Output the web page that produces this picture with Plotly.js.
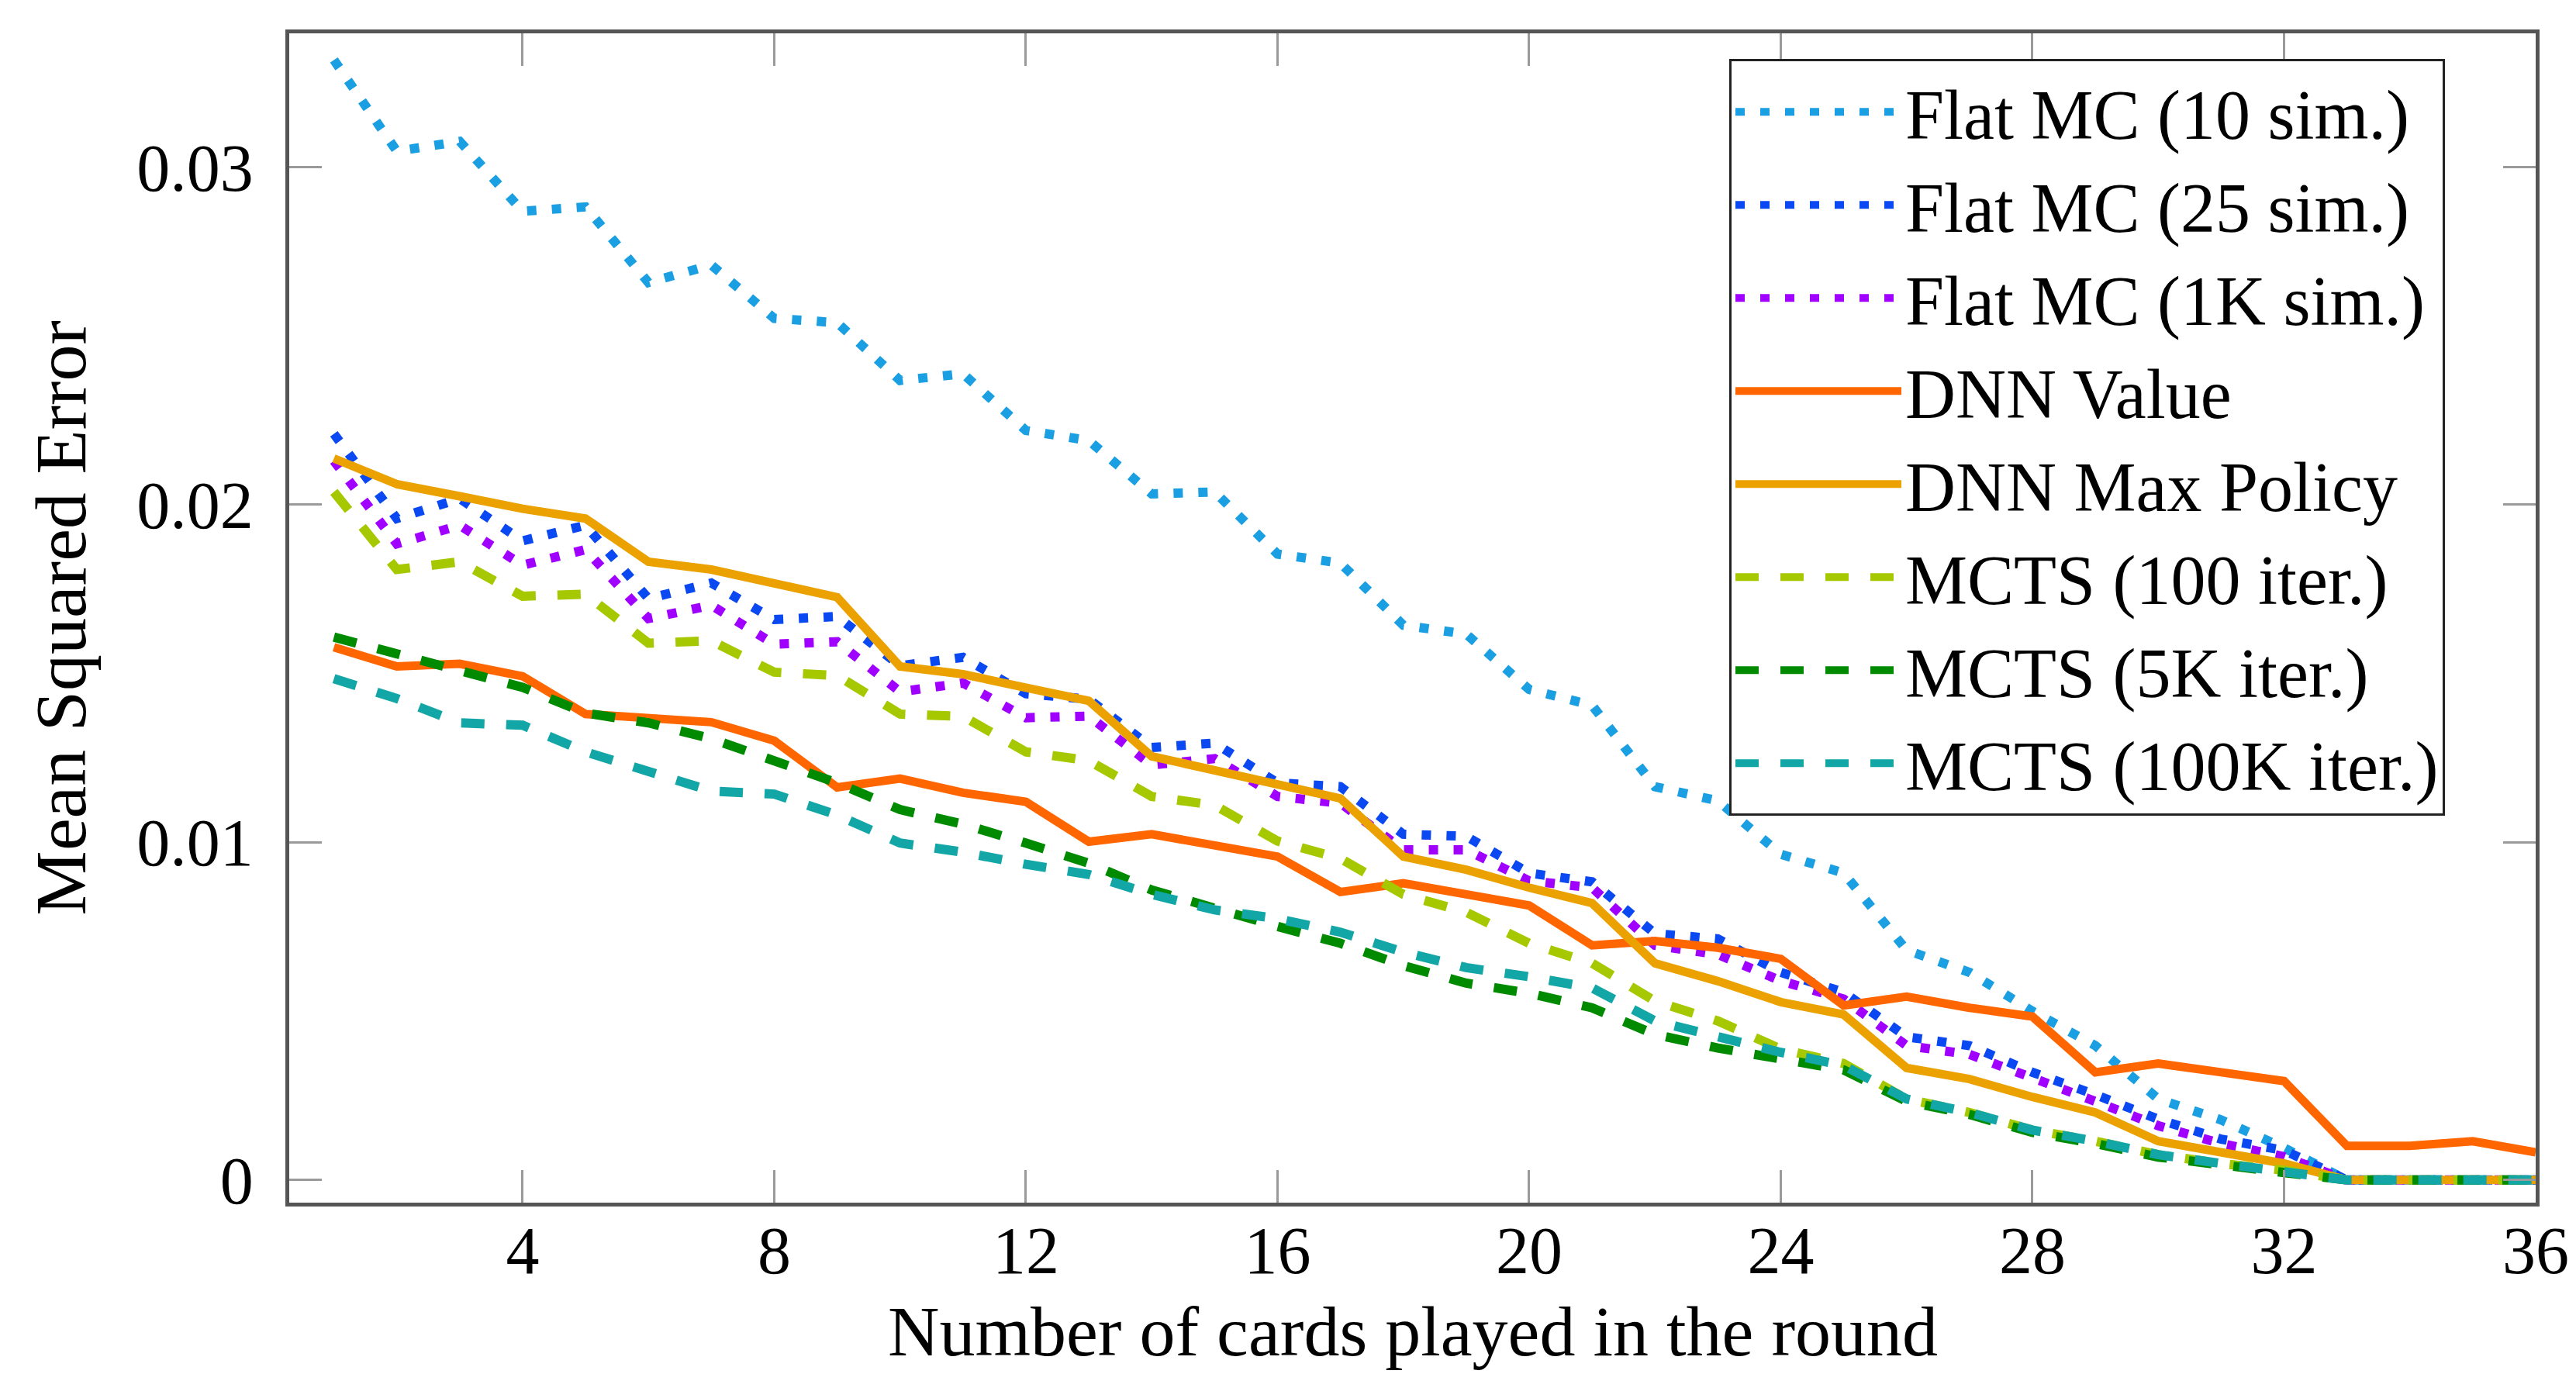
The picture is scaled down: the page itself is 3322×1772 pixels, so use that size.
<!DOCTYPE html>
<html>
<head>
<meta charset="utf-8">
<script src="https://cdn.plot.ly/plotly-3.0.1.min.js"></script>
<style>html,body{margin:0;padding:0;background:#fff;}#chart{width:3322px;height:1772px;}</style>
</head>
<body>
<div id="chart"></div>
<script>
const cardsPlayed = [1,2,3,4,5,6,7,8,9,10,11,12,13,14,15,16,17,18,19,20,21,22,23,24,25,26,27,28,29,30,31,32,33,34,35,36];

const flatMC10 = [0.03317,0.03047,0.03076,0.02869,0.02882,0.02658,0.02710,0.02552,0.02539,0.02368,0.02388,0.02220,
  0.02190,0.02032,0.02038,0.01854,0.01827,0.01643,0.01617,0.01453,0.01406,0.01165,0.01123,0.00965,
  0.00909,0.00681,0.00615,0.00500,0.00398,0.00240,0.00178,0.00095,0,0,0,0];
const flatMC25 = [0.02210,0.01959,0.02018,0.01893,0.01939,0.01722,0.01768,0.01660,0.01669,0.01523,0.01548,0.01440,
  0.01424,0.01281,0.01294,0.01176,0.01165,0.01024,0.01018,0.00909,0.00883,0.00730,0.00714,0.00615,
  0.00556,0.00424,0.00398,0.00319,0.00253,0.00180,0.00121,0.00088,0,0,0,0];
const flatMC1K = [0.02130,0.01884,0.01939,0.01821,0.01867,0.01663,0.01702,0.01587,0.01594,0.01446,0.01472,0.01369,
  0.01374,0.01229,0.01248,0.01136,0.01116,0.00978,0.00978,0.00886,0.00866,0.00695,0.00668,0.00590,
  0.00536,0.00398,0.00372,0.00299,0.00233,0.00161,0.00108,0.00069,0,0,0,0];
const dnnValue = [0.01578,0.01521,0.01529,0.01492,0.01380,0.01367,0.01356,0.01301,0.01163,0.01189,0.01147,0.01120,
  0.01002,0.01024,0.00991,0.00958,0.00853,0.00879,0.00846,0.00813,0.00695,0.00708,0.00688,0.00655,
  0.00517,0.00543,0.00510,0.00484,0.00319,0.00345,0.00319,0.00293,0.00101,0.00101,0.00115,0.00082];
const dnnMaxPolicy = [0.02137,0.02061,0.02025,0.01988,0.01959,0.01831,0.01808,0.01768,0.01726,0.01521,0.01498,0.01458,
  0.01419,0.01255,0.01215,0.01169,0.01130,0.00958,0.00919,0.00866,0.00820,0.00642,0.00589,0.00527,
  0.00490,0.00332,0.00299,0.00246,0.00200,0.00115,0.00082,0.00049,0,0,0,0];
const mcts100 = [0.02038,0.01808,0.01831,0.01729,0.01735,0.01590,0.01597,0.01504,0.01494,0.01380,0.01373,0.01268,
  0.01242,0.01136,0.01110,0.01004,0.00952,0.00846,0.00793,0.00701,0.00642,0.00530,0.00471,0.00388,
  0.00345,0.00240,0.00200,0.00148,0.00115,0.00075,0.00049,0.00029,0,0,0,0];
const mcts5K = [0.01608,0.01558,0.01512,0.01459,0.01383,0.01354,0.01307,0.01242,0.01176,0.01097,0.01054,0.00998,
  0.00938,0.00859,0.00803,0.00751,0.00701,0.00635,0.00583,0.00553,0.00510,0.00431,0.00391,0.00357,
  0.00326,0.00233,0.00194,0.00141,0.00108,0.00068,0.00042,0.00022,0,0,0,0];
const mcts100K = [0.01485,0.01426,0.01354,0.01347,0.01268,0.01209,0.01152,0.01143,0.01081,0.00998,0.00971,0.00935,
  0.00905,0.00846,0.00800,0.00774,0.00734,0.00675,0.00629,0.00602,0.00569,0.00471,0.00424,0.00378,
  0.00339,0.00240,0.00200,0.00148,0.00115,0.00075,0.00049,0.00026,0,0,0,0];

const seriesNames = ['Flat MC (10 sim.)','Flat MC (25 sim.)','Flat MC (1K sim.)','DNN Value','DNN Max Policy',
  'MCTS (100 iter.)','MCTS (5K iter.)','MCTS (100K iter.)'];
const seriesValues = [flatMC10, flatMC25, flatMC1K, dnnValue, dnnMaxPolicy, mcts100, mcts5K, mcts100K];
const seriesColors = ['#1a9fe2','#0a48f2','#a000ff','#ff6600','#eba200','#a6c800','#008a00','#12a6a6'];
const DOT = '12px,20px', DASH = '30px,28px';
const seriesDash = [DOT, DOT, DOT, 'solid', 'solid', DASH, DASH, DASH];
const seriesWidth = [12,12,12,11,11,12,12,12];

const xTickVals = [4,8,12,16,20,24,28,32,36];
const yTickVals = [0,0.01,0.02,0.03];
const yTickText = ['0','0.01','0.02','0.03'];
const xTitle = 'Number of cards played in the round';
const yTitle = 'Mean Squared Error';

const FONT = "'Liberation Serif', 'Times New Roman', serif";

const traces = seriesNames.map((n,i) => ({
  x: cardsPlayed, y: seriesValues[i], name: n, type: 'scatter', mode: 'lines',
  line: {color: seriesColors[i], width: seriesWidth[i], dash: seriesDash[i]}
}));

const layout = {
  width: 3322, height: 1772,
  margin: {l: 373, r: 52, t: 43, b: 221, pad: 0},
  paper_bgcolor: '#fff', plot_bgcolor: '#fff',
  font: {family: FONT, size: 88, color: '#000'},
  showlegend: true,
  legend: {
    x: 0.641, y: 0.978, xanchor: 'left', yanchor: 'top',
    bgcolor: '#fff', bordercolor: '#222', borderwidth: 3,
    font: {family: FONT, size: 90, color: '#000'},
    itemwidth: 214, tracegroupgap: 0
  },
  xaxis: {
    range: [0.29, 36], tickvals: xTickVals, ticktext: xTickVals.map(String),
    ticks: 'inside', ticklen: 42, tickwidth: 3, tickcolor: '#9a9a9a',
    showline: true, linecolor: '#555', linewidth: 5, mirror: 'ticks',
    showgrid: false, zeroline: false, ticklabelstandoff: -17,
    tickfont: {family: FONT, size: 86}
  },
  yaxis: {
    range: [-0.00067, 0.03396], tickvals: yTickVals, ticktext: yTickText,
    ticks: 'inside', ticklen: 42, tickwidth: 3, tickcolor: '#9a9a9a',
    showline: true, linecolor: '#555', linewidth: 5, mirror: 'ticks',
    showgrid: false, zeroline: false, ticklabelstandoff: 24,
    tickfont: {family: FONT, size: 86},
    title: {text: yTitle, font: {family: FONT, size: 94}, standoff: 36}
  },
  annotations: [{
    text: xTitle, xref: 'paper', yref: 'paper', x: 0.5, y: 0,
    xanchor: 'center', yanchor: 'middle', yshift: -166, showarrow: false,
    font: {family: FONT, size: 92, color: '#000'}
  }]
};

Plotly.newPlot('chart', traces, layout, {displayModeBar: false, staticPlot: true});
</script>
</body>
</html>
